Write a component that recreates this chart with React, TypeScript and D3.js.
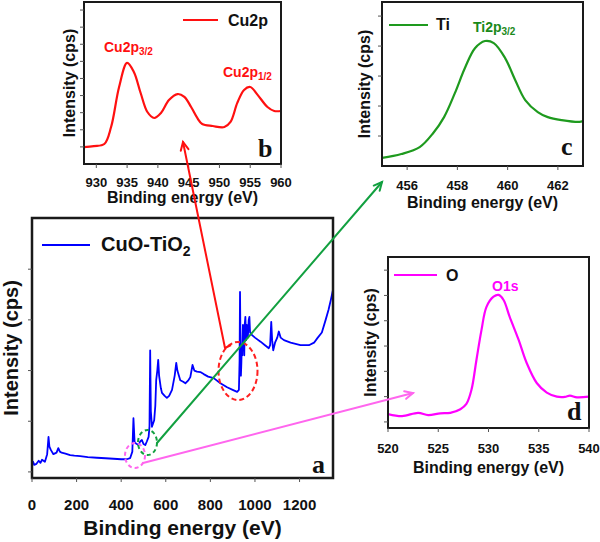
import React from 'react';
import * as d3 from 'd3';

// ---------- data ----------
const surveyEnergy = [0, 5, 10, 20, 30, 38, 45, 58, 68, 74, 78, 85, 96, 110, 118, 125, 133, 150, 171, 190, 216, 250, 291, 330, 365, 400, 425, 440, 450, 455, 460, 463, 470, 478, 485, 493, 500, 508, 515, 523, 527, 530, 533, 538, 548, 553, 557, 562, 566, 570, 578, 583, 595, 605, 615, 628, 640, 647, 652, 665, 678, 688, 700, 710, 720, 728, 740, 755, 770, 790, 815, 845, 875, 900, 920, 928, 931, 933, 935, 937, 939, 941, 943, 946, 948, 950, 952, 954, 957, 960, 963, 965, 968, 972, 975, 978, 987, 1000, 1025, 1045, 1062, 1068, 1073, 1077, 1082, 1090, 1100, 1107, 1115, 1130, 1160, 1204, 1242, 1265, 1280, 1300, 1317, 1330, 1340, 1350];
const surveyIntensity = [0.14, 0.2, 0.14, 0.16, 0.22, 0.18, 0.24, 0.2, 0.35, 0.69, 0.5, 0.43, 0.35, 0.38, 0.47, 0.4, 0.38, 0.36, 0.33, 0.32, 0.31, 0.29, 0.28, 0.27, 0.26, 0.25, 0.25, 0.27, 0.4, 1.06, 0.6, 0.57, 0.55, 0.53, 0.6, 0.63, 0.55, 0.53, 0.6, 0.69, 0.9, 2.4, 1.2, 0.89, 1.02, 1.3, 1.81, 2.0, 2.21, 1.9, 1.65, 1.56, 1.5, 1.46, 1.5, 1.62, 1.9, 2.15, 2.0, 1.81, 1.78, 1.75, 1.8, 1.87, 2.11, 2.0, 1.98, 1.97, 1.93, 1.88, 1.85, 1.75, 1.67, 1.62, 1.58, 1.62, 2.2, 3.55, 2.6, 1.9, 2.15, 2.5, 2.3, 2.9, 2.5, 2.74, 2.3, 2.9, 3.06, 2.6, 2.9, 2.8, 2.65, 3.0, 3.06, 2.75, 2.7, 2.65, 2.57, 2.5, 2.44, 2.5, 2.96, 2.6, 2.4, 2.55, 2.65, 2.77, 2.65, 2.6, 2.55, 2.5, 2.5, 2.55, 2.64, 2.75, 3.0, 3.2, 3.39, 3.59];

const cu2pEnergy = [928, 929.6, 931.3, 932.4, 933.7, 935, 936.1, 937.2, 938.3, 939.4, 940.5, 941.8, 943.2, 944.3, 945.4, 946.4, 947.2, 948.9, 950.8, 951.8, 952.9, 954, 955, 956.2, 957.8, 958.9, 960];
const cu2pIntensity = [0.99, 1.05, 1.17, 2.16, 4.5, 5.91, 5.38, 4.15, 3.04, 2.69, 2.98, 3.74, 4.09, 3.92, 3.33, 2.69, 2.34, 2.22, 2.16, 2.46, 3.57, 4.33, 4.5, 4.04, 3.33, 3.1, 3.1];

const ti2pEnergy = [455, 455.77, 456.5, 457.04, 457.47, 457.9, 458.3, 458.7, 459.1, 459.45, 459.9, 460.3, 460.7, 461.2, 461.6, 462.15, 462.86, 463];
const ti2pIntensity = [0.27, 0.4, 0.63, 1.1, 1.63, 2.43, 3.27, 3.93, 4.17, 4.1, 3.6, 2.87, 2.2, 1.8, 1.63, 1.53, 1.47, 1.5];

const o1sEnergy = [520, 521.4, 523, 524, 525.2, 526.2, 527.2, 527.8, 528.3, 528.8, 529.3, 529.8, 530.5, 531, 531.5, 532.1, 533, 533.8, 534.8, 535.8, 536.8, 537.6, 538.1, 538.8, 540];
const o1sIntensity = [0.31, 0.23, 0.36, 0.27, 0.34, 0.36, 0.5, 0.71, 1.26, 2.45, 3.63, 4.55, 4.95, 5.02, 4.82, 4.16, 3.24, 2.33, 1.54, 1.16, 1.0, 0.99, 1.04, 0.97, 1.0];

const surveyTicksX = [0, 200, 400, 600, 800, 1000, 1200];
const cu2pTicksX = [930, 935, 940, 945, 950, 955, 960];
const ti2pTicksX = [456, 458, 460, 462];
const o1sTicksX = [520, 525, 530, 535, 540];
const surveyTicksY = [0, 1, 2, 3, 4];
const cu2pTicksY = [1, 2, 3, 4, 5, 6, 7, 8, 9];
const ti2pTicksY = [1, 2, 3, 4, 5];
const o1sTicksY = [0, 1, 2, 3, 4, 5, 6];

const xTitle = 'Binding energy (eV)';
const yTitle = 'Intensity (cps)';

// ---------- layout ----------
const SANS = '"Liberation Sans", Arial, sans-serif';
const SERIF = '"Liberation Serif", "Times New Roman", serif';

type Panel = {
  key: string;
  letter: string;
  energy: number[];
  intensity: number[];
  xDomain: [number, number];
  yDomain: [number, number];
  xTicks: number[];
  yTicks: number[];
  left: number; right: number; top: number; bottom: number;
  color: string;
  width: number;
  smooth: boolean;
  tickFont: number; tickDy: number;
  titleFont: number; titleDy: number;
  yTitleFont: number; yTitleX: number;
  letterX: number; letterY: number;
  frameW: number;
};

const panels: Panel[] = [
  {
    key: 'a', letter: 'a', energy: surveyEnergy, intensity: surveyIntensity,
    xDomain: [0, 1350], yDomain: [-0.12, 5.01], xTicks: surveyTicksX, yTicks: surveyTicksY,
    left: 32, right: 333, top: 218, bottom: 478, color: '#0000ff', width: 1.8, smooth: false,
    tickFont: 15, tickDy: 32, titleFont: 21, titleDy: 57, yTitleFont: 20, yTitleX: 18,
    letterX: 312, letterY: 473, frameW: 2.5,
  },
  {
    key: 'b', letter: 'b', energy: cu2pEnergy, intensity: cu2pIntensity,
    xDomain: [928, 960], yDomain: [0, 9.47], xTicks: cu2pTicksX, yTicks: cu2pTicksY,
    left: 84, right: 281, top: 2, bottom: 164, color: '#ff1010', width: 2.2, smooth: true,
    tickFont: 13, tickDy: 23, titleFont: 16, titleDy: 39, yTitleFont: 16, yTitleX: 75,
    letterX: 258, letterY: 157, frameW: 2,
  },
  {
    key: 'c', letter: 'c', energy: ti2pEnergy, intensity: ti2pIntensity,
    xDomain: [455, 463], yDomain: [0, 5.47], xTicks: ti2pTicksX, yTicks: ti2pTicksY,
    left: 382, right: 583, top: 2, bottom: 166, color: '#1e9a1e', width: 2.2, smooth: true,
    tickFont: 13, tickDy: 24, titleFont: 16, titleDy: 42, yTitleFont: 16, yTitleX: 370,
    letterX: 561, letterY: 155, frameW: 2,
  },
  {
    key: 'd', letter: 'd', energy: o1sEnergy, intensity: o1sIntensity,
    xDomain: [520, 540], yDomain: [-0.24, 6.52], xTicks: o1sTicksX, yTicks: o1sTicksY,
    left: 388, right: 589, top: 257, bottom: 428, color: '#ff00ff', width: 2.2, smooth: true,
    tickFont: 13, tickDy: 25, titleFont: 16, titleDy: 45, yTitleFont: 16, yTitleX: 376,
    letterX: 567, letterY: 420, frameW: 2,
  },
];

function PanelView({ p }: { p: Panel }) {
  const x = d3.scaleLinear().domain(p.xDomain).range([p.left, p.right]);
  const y = d3.scaleLinear().domain(p.yDomain).range([p.bottom, p.top]);
  const line = d3
    .line<number>()
    .x((_, i) => x(p.energy[i]))
    .y((d) => y(d))
    .curve(p.smooth ? d3.curveCatmullRom.alpha(0.5) : d3.curveLinear);
  const path = line(p.intensity) || '';
  const cx = (p.left + p.right) / 2;
  const cy = (p.top + p.bottom) / 2;
  const clipId = `clip-${p.key}`;
  return (
    <g>
      <defs>
        <clipPath id={clipId}>
          <rect x={p.left} y={p.top} width={p.right - p.left} height={p.bottom - p.top} />
        </clipPath>
      </defs>
      <path d={path} fill="none" stroke={p.color} strokeWidth={p.width} strokeLinejoin="round" clipPath={`url(#${clipId})`} />
      <rect x={p.left} y={p.top} width={p.right - p.left} height={p.bottom - p.top} fill="none" stroke="#1a1a1a" strokeWidth={p.frameW} />
      {p.xTicks.map((t) => (
        <g key={`x${t}`}>
          <line x1={x(t)} x2={x(t)} y1={p.bottom} y2={p.bottom + 4} stroke="#555" strokeWidth={1} />
          <text x={x(t)} y={p.bottom + p.tickDy} textAnchor="middle" fontFamily={SANS} fontWeight="bold" fontSize={p.tickFont} fill="#111">{t}</text>
        </g>
      ))}
      {p.yTicks.map((t) => (
        <line key={`y${t}`} x1={p.left - 4} x2={p.left} y1={y(t)} y2={y(t)} stroke="#555" strokeWidth={1} />
      ))}
      <text x={cx} y={p.bottom + p.titleDy} textAnchor="middle" fontFamily={SANS} fontWeight="bold" fontSize={p.titleFont} fill="#111">{xTitle}</text>
      <text transform={`translate(${p.yTitleX},${cy}) rotate(-90)`} textAnchor="middle" fontFamily={SANS} fontWeight="bold" fontSize={p.yTitleFont} fill="#111">{yTitle}</text>
      <text x={p.letterX} y={p.letterY} fontFamily={SERIF} fontWeight="bold" fontSize={26} fill="#111">{p.letter}</text>
    </g>
  );
}

function Arrow({ x1, y1, x2, y2, color }: { x1: number; y1: number; x2: number; y2: number; color: string }) {
  const ang = Math.atan2(y2 - y1, x2 - x1);
  const len = 9;
  const spread = 0.45;
  const a1x = x2 - len * Math.cos(ang - spread);
  const a1y = y2 - len * Math.sin(ang - spread);
  const a2x = x2 - len * Math.cos(ang + spread);
  const a2y = y2 - len * Math.sin(ang + spread);
  return (
    <g stroke={color} strokeWidth={2} fill="none" strokeLinecap="round">
      <line x1={x1} y1={y1} x2={x2} y2={y2} />
      <polyline points={`${a1x},${a1y} ${x2},${y2} ${a2x},${a2y}`} />
    </g>
  );
}

export default function App() {
  return (
    <svg width={600} height={542} style={{ position: 'absolute', left: 0, top: 0, background: '#fff' }}>
      <rect x={0} y={0} width={600} height={542} fill="#fff" />
      {panels.map((p) => (
        <PanelView key={p.key} p={p} />
      ))}

      {/* legends */}
      <line x1={42} x2={90} y1={245} y2={245} stroke="#0000ff" strokeWidth={2} />
      <text x={101} y={251} fontFamily={SANS} fontWeight="bold" fontSize={20} fill="#111">
        CuO-TiO<tspan fontSize={14} dy={5}>2</tspan>
      </text>
      <line x1={183} x2={218} y1={20} y2={20} stroke="#ff1010" strokeWidth={2} />
      <text x={228} y={26} fontFamily={SANS} fontWeight="bold" fontSize={16} fill="#111">Cu2p</text>
      <line x1={389} x2={428} y1={25} y2={25} stroke="#1e9a1e" strokeWidth={2} />
      <text x={436} y={30} fontFamily={SANS} fontWeight="bold" fontSize={16} fill="#111">Ti</text>
      <line x1={394} x2={437} y1={275} y2={275} stroke="#ff00ff" strokeWidth={2} />
      <text x={446} y={281} fontFamily={SANS} fontWeight="bold" fontSize={16} fill="#111">O</text>

      {/* peak annotations */}
      <text x={104} y={52} fontFamily={SANS} fontWeight="bold" fontSize={14} fill="#ff1010">
        Cu2p<tspan fontSize={10} dy={3}>3/2</tspan>
      </text>
      <text x={223} y={77} fontFamily={SANS} fontWeight="bold" fontSize={14} fill="#ff1010">
        Cu2p<tspan fontSize={10} dy={3}>1/2</tspan>
      </text>
      <text x={473} y={32} fontFamily={SANS} fontWeight="bold" fontSize={14} fill="#1a8a1a">
        Ti2p<tspan fontSize={10} dy={3}>3/2</tspan>
      </text>
      <text x={492} y={291} fontFamily={SANS} fontWeight="bold" fontSize={14} fill="#ff00ff">O1s</text>

      {/* dashed ellipses */}
      <ellipse cx={238} cy={371} rx={19.5} ry={29} fill="none" stroke="#ff2020" strokeWidth={2} strokeDasharray="5,3" />
      <ellipse cx={147.5} cy={442.5} rx={9.5} ry={12.5} fill="none" stroke="#12a040" strokeWidth={2} strokeDasharray="4,3" />
      <ellipse cx={135} cy={455.5} rx={10} ry={12.5} fill="none" stroke="#ff66ee" strokeWidth={2} strokeDasharray="4,3" />

      {/* connecting arrows */}
      <polyline points="231,345 225,348" stroke="#ff1010" strokeWidth={2} fill="none" />
      <Arrow x1={225} y1={348} x2={183} y2={142} color="#ff1010" />
      <Arrow x1={157} y1={443} x2={382} y2={182} color="#12a040" />
      <Arrow x1={143} y1={463} x2={413} y2={393} color="#ff66ee" />
    </svg>
  );
}
